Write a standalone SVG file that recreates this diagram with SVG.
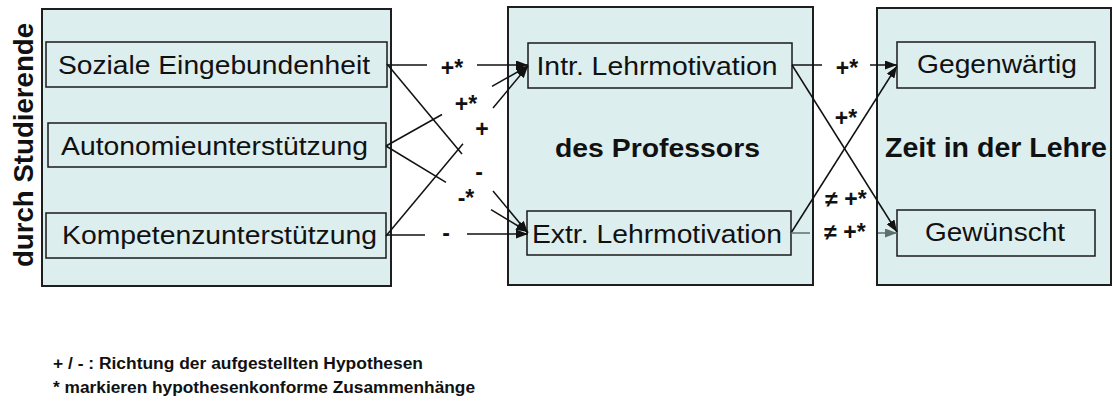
<svg xmlns="http://www.w3.org/2000/svg" width="1113" height="405" viewBox="0 0 1113 405">
<style>
.panel{fill:#ddeeee;stroke:#1e1e1e;stroke-width:2}
.box{fill:#ddeeee;stroke:#1a1a1a;stroke-width:1.5}
.t{font-family:"Liberation Sans",Arial,sans-serif;font-size:26px;fill:#111;text-anchor:middle}
.b{font-family:"Liberation Sans",Arial,sans-serif;font-weight:bold;fill:#111}
.lbl{font-family:"Liberation Sans",Arial,sans-serif;font-weight:bold;font-size:23px;fill:#111;text-anchor:middle}
.ln{fill:none;stroke:#111;stroke-width:1.5}
.gr{fill:none;stroke:#5f6f6f;stroke-width:1.5}
</style>
<defs>
<marker id="ah" markerUnits="userSpaceOnUse" markerWidth="12" markerHeight="9" refX="12" refY="4.5" orient="auto"><path d="M0,0 L12,4.5 L0,9 z" fill="#111"/></marker>
<marker id="ahg" markerUnits="userSpaceOnUse" markerWidth="12" markerHeight="9" refX="12" refY="4.5" orient="auto"><path d="M0,0 L12,4.5 L0,9 z" fill="#5f6f6f"/></marker>
</defs>
<rect width="1113" height="405" fill="#ffffff"/>

<g id="panel-left">
<rect class="panel" x="42" y="9" width="349" height="277"/>
<text class="b" font-size="27" transform="translate(33,145) rotate(-90)" text-anchor="middle" textLength="244" lengthAdjust="spacingAndGlyphs">durch Studierende</text>
</g>
<g id="panel-mid">
<rect class="panel" x="508" y="7" width="305" height="278"/>
<text class="b" font-size="26" x="657.5" y="157" text-anchor="middle" textLength="205" lengthAdjust="spacingAndGlyphs">des Professors</text>
</g>
<g id="panel-right">
<rect class="panel" x="877" y="8" width="234" height="277"/>
<text class="b" font-size="27" x="996" y="157" text-anchor="middle" textLength="222" lengthAdjust="spacingAndGlyphs">Zeit in der Lehre</text>
</g>

<g id="node-soziale">
<rect class="box" x="46" y="42" width="341" height="45"/>
<text class="t" x="214" y="74" textLength="312" lengthAdjust="spacingAndGlyphs">Soziale Eingebundenheit</text>
</g>
<g id="node-autonomie">
<rect class="box" x="48" y="123" width="338" height="44"/>
<text class="t" x="214.5" y="155" textLength="307" lengthAdjust="spacingAndGlyphs">Autonomieunterstützung</text>
</g>
<g id="node-kompetenz">
<rect class="box" x="46" y="213" width="340" height="45"/>
<text class="t" x="219.5" y="244" textLength="315" lengthAdjust="spacingAndGlyphs">Kompetenzunterstützung</text>
</g>
<g id="node-intr">
<rect class="box" x="528" y="43" width="264" height="45"/>
<text class="t" x="657" y="75" textLength="241" lengthAdjust="spacingAndGlyphs">Intr. Lehrmotivation</text>
</g>
<g id="node-extr">
<rect class="box" x="527" y="211" width="264" height="44"/>
<text class="t" x="657" y="243" textLength="250" lengthAdjust="spacingAndGlyphs">Extr. Lehrmotivation</text>
</g>
<g id="node-gegenwaertig">
<rect class="box" x="897" y="42" width="198" height="46"/>
<text class="t" x="997" y="73" textLength="160" lengthAdjust="spacingAndGlyphs">Gegenwärtig</text>
</g>
<g id="node-gewuenscht">
<rect class="box" x="897" y="210" width="198" height="46"/>
<text class="t" x="995" y="241" textLength="140" lengthAdjust="spacingAndGlyphs">Gewünscht</text>
</g>

<g id="connectors">
<path class="ln" d="M387,65 H427"/>
<path class="ln" d="M477,65 H528" marker-end="url(#ah)"/>
<path class="ln" d="M387,64 L462,154"/>
<path class="ln" d="M493,191 L528,233" marker-end="url(#ah)"/>
<path class="ln" d="M386,146 L442,114.5"/>
<path class="ln" d="M492,86.3 L528,66" marker-end="url(#ah)"/>
<path class="ln" d="M386,146 L446,182.3"/>
<path class="ln" d="M491,209.6 L528,232" marker-end="url(#ah)"/>
<path class="ln" d="M386,236 L463,143.8"/>
<path class="ln" d="M493,107.9 L528,66" marker-end="url(#ah)"/>
<path class="ln" d="M386,235 H425"/>
<path class="ln" d="M467,234 H528" marker-end="url(#ah)"/>

<path class="ln" d="M792,65 H822"/>
<path class="ln" d="M870,65 H897" marker-end="url(#ah)"/>
<path class="ln" d="M792,65 L897,232" marker-end="url(#ah)"/>
<path class="ln" d="M791,233 L897,66" marker-end="url(#ah)"/>
<path class="gr" d="M791,233 H810"/>
<path class="gr" d="M878,233 H897" marker-end="url(#ahg)"/>

<text class="lbl" x="452" y="76">+*</text>
<text class="lbl" x="466" y="112">+*</text>
<text class="lbl" x="482" y="137">+</text>
<text class="lbl" x="479" y="180">-</text>
<text class="lbl" x="466" y="206">-*</text>
<text class="lbl" x="446" y="241">-</text>
<text class="lbl" x="847" y="76">+*</text>
<text class="lbl" x="846" y="126">+*</text>
<text class="lbl" x="846" y="207">≠ +*</text>
<text class="lbl" x="845" y="240">≠ +*</text>
</g>

<g id="legend">
<text class="b" font-size="16" x="53" y="369" textLength="370" lengthAdjust="spacingAndGlyphs">+ / - : Richtung der aufgestellten Hypothesen</text>
<text class="b" font-size="16" x="53" y="393" textLength="422" lengthAdjust="spacingAndGlyphs">* markieren hypothesenkonforme Zusammenhänge</text>
</g>
</svg>
